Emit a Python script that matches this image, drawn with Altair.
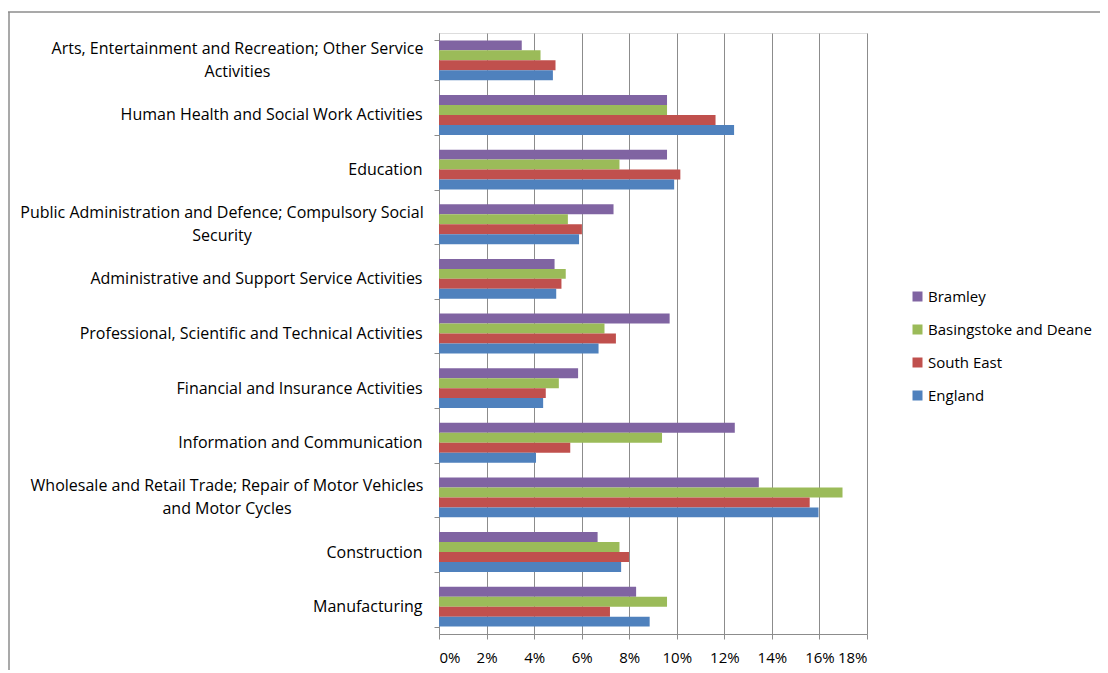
import altair as alt
import pandas as pd

categories = [
    "Arts, Entertainment and Recreation; Other Service Activities",
    "Human Health and Social Work Activities",
    "Education",
    "Public Administration and Defence; Compulsory Social Security",
    "Administrative and Support Service Activities",
    "Professional, Scientific and Technical Activities",
    "Financial and Insurance Activities",
    "Information and Communication",
    "Wholesale and Retail Trade; Repair of Motor Vehicles and Motor Cycles",
    "Construction",
    "Manufacturing",
]
wrapped = {
    "Arts, Entertainment and Recreation; Other Service Activities":
        ["Arts, Entertainment and Recreation; Other Service", "Activities"],
    "Public Administration and Defence; Compulsory Social Security":
        ["Public Administration and Defence; Compulsory Social", "Security"],
    "Wholesale and Retail Trade; Repair of Motor Vehicles and Motor Cycles":
        ["Wholesale and Retail Trade; Repair of Motor Vehicles", "and Motor Cycles"],
}
# approximate rendered width (px) of each wrapped label's first line, used to centre the block
first_line_width = {
    "Arts, Entertainment and Recreation; Other Service Activities": 370,
    "Public Administration and Defence; Compulsory Social Security": 401,
    "Wholesale and Retail Trade; Repair of Motor Vehicles and Motor Cycles": 391,
}
series = ["Bramley", "Basingstoke and Deane", "South East", "England"]
colors = ["#8064A2", "#9BBB59", "#C0504D", "#4F81BD"]

bramley = [3.48, 9.59, 9.59, 7.34, 4.86, 9.70, 5.85, 12.44, 13.45, 6.67, 8.29]
basingstoke = [4.27, 9.59, 7.59, 5.42, 5.33, 6.96, 5.04, 9.38, 16.97, 7.59, 9.59]
south_east = [4.90, 11.63, 10.15, 6.01, 5.15, 7.44, 4.49, 5.52, 15.59, 7.99, 7.19]
england = [4.79, 12.41, 9.89, 5.89, 4.93, 6.71, 4.38, 4.08, 15.96, 7.66, 8.86]
x_ticks = [0, 0.02, 0.04, 0.06, 0.08, 0.10, 0.12, 0.14, 0.16, 0.18]

rows = []
for name, vals in zip(series, [bramley, basingstoke, south_east, england]):
    for cat, v in zip(categories, vals):
        rows.append({"category": cat, "series": name, "value": v / 100})
df = pd.DataFrame(rows)

expr = ""
for cat, lines in wrapped.items():
    expr += "datum.value == '%s' ? ['%s', '%s'] : " % (cat, lines[0], lines[1])
expr += "datum.label"
wrapped_test = "indexof([%s], datum.value) >= 0" % ", ".join("'%s'" % c for c in wrapped)

FONT = "Open Sans"
FS = 16
GRAY = "#8c8c8c"
LABEL_PAD = 12

pad_conditions = [
    {"test": "datum.value == '%s'" % cat, "value": LABEL_PAD + w / 2}
    for cat, w in first_line_width.items()
]

bars = alt.Chart(df).mark_bar().encode(
    x=alt.X("value:Q",
            scale=alt.Scale(domain=[0, 0.18], nice=False, zero=True),
            axis=alt.Axis(values=x_ticks, format=".0%", title=None, grid=True,
                          gridColor=GRAY, domainColor=GRAY,
                          tickColor=GRAY, tickSize=5, labelPadding=11,
                          labelFontSize=15, labelColor="#000000", labelFont=FONT)),
    y=alt.Y("category:N", sort=categories,
            scale=alt.Scale(paddingInner=0.27, paddingOuter=0.135),
            axis=alt.Axis(title=None, labelExpr=expr, tickBand="extent",
                          domainColor=GRAY, tickColor=GRAY, tickSize=5,
                          labelFontSize=FS, labelColor="#000000",
                          labelFont=FONT, labelLineHeight=23, labelLimit=500,
                          labelAlign={"condition": {"test": wrapped_test, "value": "center"},
                                      "value": "right"},
                          labelPadding={"condition": pad_conditions, "value": LABEL_PAD},
                          labelOffset={"condition": {"test": wrapped_test, "value": -11.5},
                                       "value": 0})),
    yOffset=alt.YOffset("series:N", sort=series, scale=alt.Scale(paddingInner=0)),
    color=alt.Color("series:N", sort=series,
                    scale=alt.Scale(domain=series, range=colors),
                    legend=alt.Legend(title=None, orient="none", legendX=471, legendY=256,
                                      symbolType="square", symbolSize=100,
                                      symbolStrokeWidth=0, labelFontSize=15,
                                      labelFont=FONT, labelColor="#000000", labelLimit=300,
                                      rowPadding=17, labelOffset=3, padding=0)),
)

frame_top = alt.Chart(alt.Data(values=[{}])).mark_rule(color=GRAY, strokeWidth=1.5).encode(
    x=alt.value(-431), x2=alt.value(661), y=alt.value(-21))
frame_left = alt.Chart(alt.Data(values=[{}])).mark_rule(color=GRAY, strokeWidth=1.5).encode(
    x=alt.value(-430), y=alt.value(-21), y2=alt.value(640))

chart = alt.layer(bars, frame_top, frame_left).properties(
    width=428, height=601,
    autosize=alt.AutoSizeParams(type="none"),
    padding={"left": 431, "top": 25, "right": 233, "bottom": 36},
).configure_view(stroke=None).configure(background="white")

chart.save("out.html", embed_options={"renderer": "svg", "actions": False})
